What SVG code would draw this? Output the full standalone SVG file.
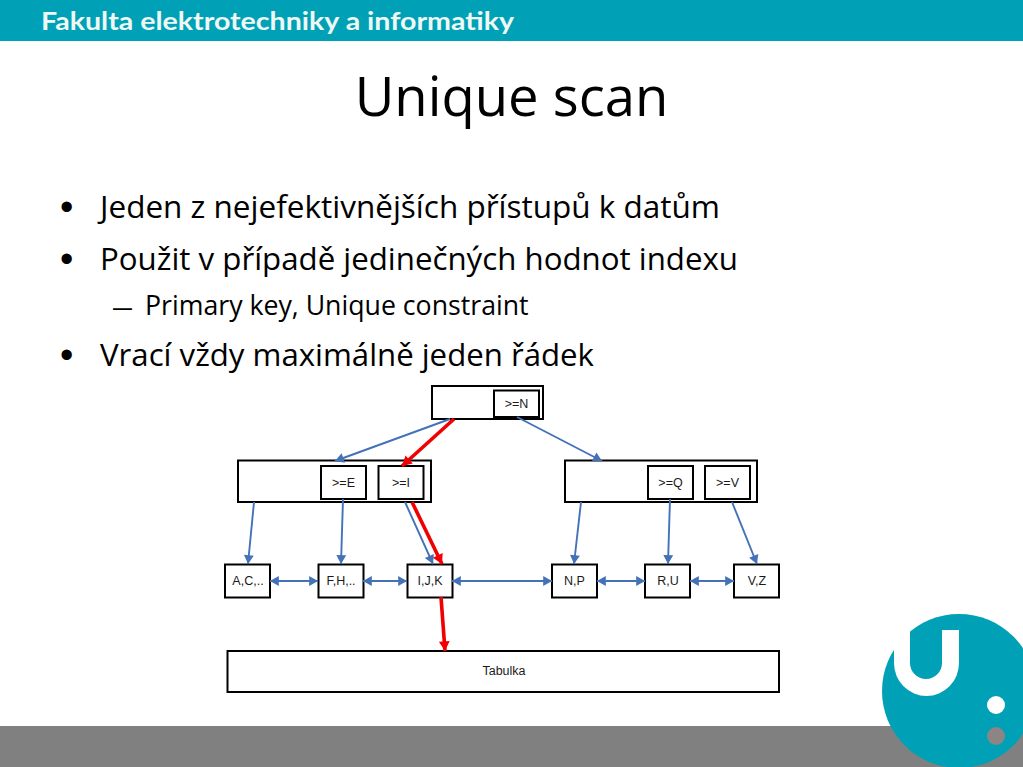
<svg xmlns="http://www.w3.org/2000/svg" width="1023" height="767" viewBox="0 0 1023 767">
<style>
.box{fill:#fff;stroke:#000;stroke-width:2}
.lbl{font-family:"Liberation Sans",Arial,sans-serif;font-size:12.500px;fill:#1a1a1a;text-anchor:middle}
.body{font-family:"Open Sans","Noto Sans",sans-serif;fill:#000}
.bul{font-family:"Liberation Sans",Arial,sans-serif;fill:#000}
.b{fill:none;stroke:#4472b8;stroke-width:1.9}
.r{fill:none;stroke:#f00000;stroke-width:3.6}
</style>
<defs>
<marker id="ab" markerUnits="userSpaceOnUse" markerWidth="11" markerHeight="11" viewBox="0 0 10 10" refX="9" refY="5" orient="auto-start-reverse"><path d="M1,0.500L9,5L1,9.500Z" fill="#4472b8"/></marker>
<marker id="ar" markerUnits="userSpaceOnUse" markerWidth="12" markerHeight="12" viewBox="0 0 10 10" refX="9" refY="5" orient="auto"><path d="M1,0.500L9,5L1,9.500Z" fill="#f00000"/></marker>
</defs>
<rect x="0" y="0" width="1023" height="41" fill="#00a1b6"/>
<text x="41" y="30" font-family="Lato,'Open Sans',sans-serif" font-weight="700" font-size="25" fill="#eef8f4" textLength="473" lengthAdjust="spacingAndGlyphs">Fakulta elektrotechniky a informatiky</text>
<rect x="0" y="726" width="1023" height="41" fill="#808080"/>
<g id="logo">
<circle cx="959" cy="691" r="77" fill="#00a1b6"/>
<path d="M894,630H910V663A16,16 0 0 0 942,663V630H959V663A32.500,33 0 0 1 894,663Z" fill="#fff"/>
<circle cx="996" cy="705" r="9" fill="#fff"/>
<circle cx="996" cy="736" r="9" fill="#8c8583"/>
</g>
<text class="body" x="511.500" y="116" font-size="54.400" text-anchor="middle">Unique scan</text>
<g class="body" font-size="31.500">
<text x="100" y="218" textLength="620" lengthAdjust="spacingAndGlyphs">Jeden z nejefektivnějších přístupů k datům</text>
<text x="100" y="270" textLength="638" lengthAdjust="spacingAndGlyphs">Použit v případě jedinečných hodnot indexu</text>
<text x="100" y="366" textLength="494" lengthAdjust="spacingAndGlyphs">Vrací vždy maximálně jeden řádek</text>
</g>
<g class="bul" font-size="38">
<text x="60" y="220">•</text>
<text x="60" y="272">•</text>
<text x="60" y="368">•</text>
</g>
<text class="bul" x="113" y="316" font-size="27" textLength="19" lengthAdjust="spacingAndGlyphs">–</text>
<text class="body" x="145" y="315" font-size="26.700">Primary key, Unique constraint</text>
<g id="root"><rect class="box" x="432" y="386" width="111" height="33"/><rect class="box" x="494" y="390.500" width="45" height="26.500"/><text class="lbl" x="516.500" y="408">&gt;=N</text></g>
<g id="left"><rect class="box" x="238" y="460.500" width="193" height="41.500"/><rect class="box" x="321" y="466" width="45" height="33"/><text class="lbl" x="343.500" y="487">&gt;=E</text><rect class="box" x="378.500" y="466" width="45" height="33"/><text class="lbl" x="401" y="487">&gt;=I</text></g>
<g id="right"><rect class="box" x="565" y="460.500" width="192" height="41.500"/><rect class="box" x="648" y="466" width="45" height="33"/><text class="lbl" x="670.500" y="487">&gt;=Q</text><rect class="box" x="705" y="466" width="45" height="33"/><text class="lbl" x="727.500" y="487">&gt;=V</text></g>
<g id="leaf-ac"><rect class="box" x="225" y="564.500" width="45" height="33"/><text class="lbl" x="248" y="585">A,C,..</text></g>
<g id="leaf-fh"><rect class="box" x="318.500" y="564.500" width="45" height="33"/><text class="lbl" x="341" y="585">F,H,..</text></g>
<g id="leaf-ij"><rect class="box" x="407.500" y="564.500" width="45" height="33"/><text class="lbl" x="430" y="585">I,J,K</text></g>
<g id="leaf-np"><rect class="box" x="552" y="564.500" width="45" height="33"/><text class="lbl" x="574.500" y="585">N,P</text></g>
<g id="leaf-ru"><rect class="box" x="645" y="564.500" width="45" height="33"/><text class="lbl" x="668" y="585">R,U</text></g>
<g id="leaf-vz"><rect class="box" x="734" y="564.500" width="45" height="33"/><text class="lbl" x="757" y="585">V,Z</text></g>
<g id="table"><rect class="box" x="227.500" y="651" width="551.500" height="41"/><text class="lbl" x="504" y="674.500">Tabulka</text></g>
<g id="connectors">
<path class="b" marker-end="url(#ab)" d="M450,419L335,461"/>
<path class="b" marker-end="url(#ab)" d="M517,417L602,461"/>
<path class="b" marker-end="url(#ab)" d="M254,502L248,564"/>
<path class="b" marker-end="url(#ab)" d="M343,499L341,564"/>
<path class="b" marker-end="url(#ab)" d="M405,502L433,564"/>
<path class="b" marker-end="url(#ab)" d="M581,502L574,564"/>
<path class="b" marker-end="url(#ab)" d="M670,499L668,564"/>
<path class="b" marker-end="url(#ab)" d="M732,502L757,564"/>
<path class="b" marker-start="url(#ab)" marker-end="url(#ab)" d="M270,581H318"/>
<path class="b" marker-start="url(#ab)" marker-end="url(#ab)" d="M363,581H407"/>
<path class="b" marker-start="url(#ab)" marker-end="url(#ab)" d="M452,581H552"/>
<path class="b" marker-start="url(#ab)" marker-end="url(#ab)" d="M597,581H645"/>
<path class="b" marker-start="url(#ab)" marker-end="url(#ab)" d="M690,581H734"/>
<path class="r" marker-end="url(#ar)" d="M454,419L402,466"/>
<path class="r" marker-end="url(#ar)" d="M412,502L442,564"/>
<path class="r" marker-end="url(#ar)" d="M441,597L445,651"/>
</g>
</svg>
